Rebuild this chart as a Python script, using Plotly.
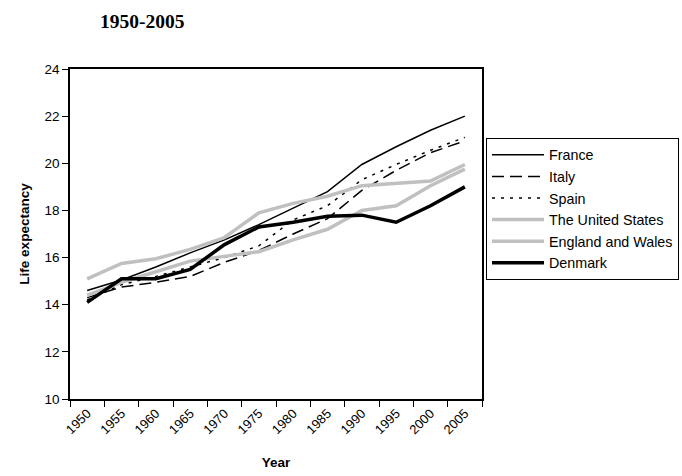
import plotly.graph_objects as go

years = ["1950", "1955", "1960", "1965", "1970", "1975", "1980", "1985", "1990", "1995", "2000", "2005"]

france = [14.6, 15.05, 15.6, 16.2, 16.75, 17.4, 18.1, 18.8, 19.95, 20.7, 21.4, 22.0]
italy = [14.3, 14.75, 14.95, 15.2, 15.8, 16.3, 17.0, 17.65, 18.85, 19.7, 20.45, 20.95]
spain = [14.2, 14.85, 15.2, 15.6, 16.0, 16.5, 17.6, 18.2, 19.3, 19.95, 20.55, 21.1]
usa = [15.1, 15.75, 15.95, 16.35, 16.85, 17.9, 18.3, 18.6, 19.05, 19.15, 19.25, 19.95]
england = [14.4, 14.95, 15.4, 15.85, 16.05, 16.25, 16.75, 17.2, 18.0, 18.2, 19.05, 19.75]
denmark = [14.1, 15.1, 15.1, 15.5, 16.55, 17.3, 17.5, 17.75, 17.8, 17.5, 18.2, 19.0]

gray = "#C0C0C0"
series = [
    ("France", france, dict(color="black", width=1.5, dash="solid")),
    ("Italy", italy, dict(color="black", width=1.5, dash="12px,6px")),
    ("Spain", spain, dict(color="black", width=1.5, dash="3px,6px")),
    ("The United States", usa, dict(color=gray, width=3.5, dash="solid")),
    ("England and Wales", england, dict(color=gray, width=3.5, dash="solid")),
    ("Denmark", denmark, dict(color="black", width=3.5, dash="solid")),
]

fig = go.Figure()
for name, vals, line in series:
    fig.add_trace(go.Scatter(x=years, y=vals, name=name, mode="lines", line=line))

axis_font = dict(family="Liberation Sans, Arial", size=13, color="black")

fig.update_layout(
    width=682,
    height=476,
    margin=dict(l=70, r=200, t=69, b=77, autoexpand=False),
    paper_bgcolor="white",
    plot_bgcolor="white",
    font=axis_font,
    title=dict(
        text="<b>1950-2005</b>",
        font=dict(family="Liberation Serif, Times New Roman", size=19.5, color="black"),
        xref="container", x=100 / 682, xanchor="left",
        yref="container", y=1 - 21 / 476, yanchor="middle",
    ),
    showlegend=True,
    legend=dict(
        xref="container", x=486 / 682, xanchor="left",
        yref="container", y=1 - 138 / 476, yanchor="top",
        bordercolor="black", borderwidth=1,
        font=dict(family="Liberation Sans, Arial", size=14.3, color="black"),
        itemwidth=52,
        tracegroupgap=0,
    ),
    xaxis=dict(
        type="category",
        range=[-0.5, 11.5],
        showline=True, linecolor="black", linewidth=1.5, mirror=True,
        ticks="outside", ticklen=6, tickcolor="black", tickson="boundaries",
        tickangle=-45,
        showgrid=False, zeroline=False,
        title=dict(text="<b>Year</b>", font=dict(size=13.5), standoff=22),
        tickfont=dict(size=13),
    ),
    yaxis=dict(
        range=[10, 24], dtick=2,
        showline=True, linecolor="black", linewidth=1.5, mirror=True,
        ticks="outside", ticklen=6, tickcolor="black",
        showgrid=False, zeroline=False,
        title=dict(text="<b>Life expectancy</b>", font=dict(size=13.5), standoff=12),
        tickfont=dict(size=13.5),
    ),
)

fig.write_html("out.html")
